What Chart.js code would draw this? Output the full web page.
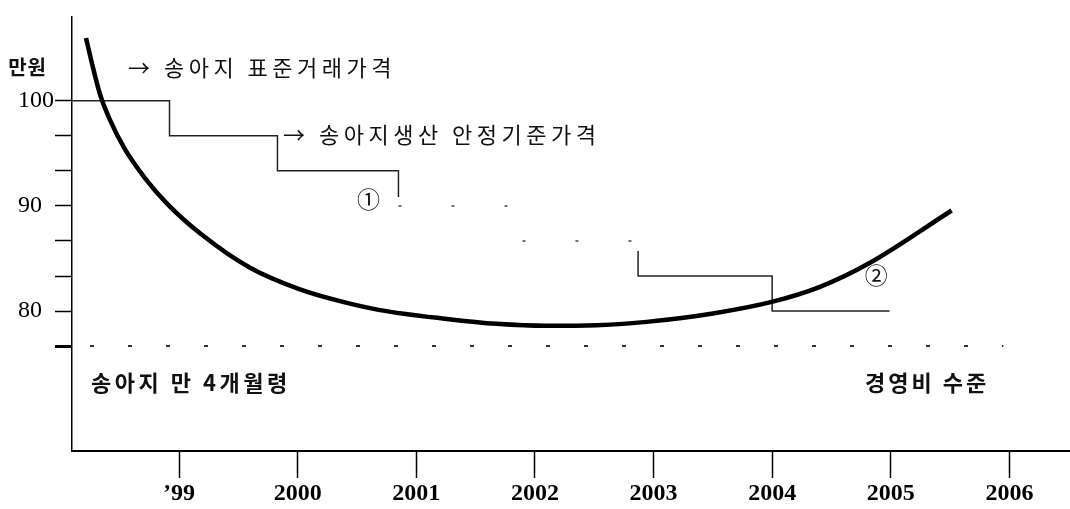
<!DOCTYPE html>
<html>
<head>
<meta charset="utf-8">
<script src="https://cdn.jsdelivr.net/npm/chart.js@4/dist/chart.umd.min.js"></script>
<style>
  html, body { margin: 0; padding: 0; background: #fff; }
  #wrap { width: 1070px; height: 509px; position: relative; }
</style>
</head>
<body>
<div id="wrap"><canvas id="chart"></canvas></div>
<script>
// 가로: 연도, 세로: 만원

// 경영비 수준 (굵은 곡선)
const curveYears  = [1998.216, 1998.275, 1998.334, 1998.418, 1998.545, 1998.713, 1998.899, 1999.177, 1999.599,
                     2000.020, 2000.357, 2000.694, 2001.257, 2001.678, 2002.100, 2002.521, 2002.942, 2003.501,
                     2004.005, 2004.403, 2004.825, 2005.513];
const curveValues = [105.96, 103.15, 100.62, 98.18, 95.37, 92.65, 90.22, 87.40, 84.12,
                     82.06, 80.94, 80.09, 79.25, 78.78, 78.59, 78.66, 78.97, 79.77,
                     80.89, 82.30, 84.59, 89.56];

// 송아지생산 안정기준가격 (계단선) - 앞부분
const stepYearsA  = [1998.10, 1998.92, 1998.92, 1999.83, 1999.83, 2000.85, 2000.85];
const stepValuesA = [100, 100, 96.67, 96.67, 93.33, 93.33, 90.84];
// 흐린 가운데 부분
const stepYearsB  = [2000.85, 2001.87, 2001.87, 2002.87, 2002.87];
const stepValuesB = [90, 90, 86.67, 86.67, 85.7];
// 뒷부분
const stepYearsC  = [2002.87, 2002.87, 2004.00, 2004.00, 2004.99];
const stepValuesC = [85.7, 83.33, 83.33, 80, 80];

// 점선 (76.67 수준)
const dotYears  = [1998.25, 2005.95];
const dotValues = [76.67, 76.67];

// 축 눈금
const xTickYears  = [1999, 2000, 2001, 2002, 2003, 2004, 2005, 2006];
const xTickLabels = ["’99", "2000", "2001", "2002", "2003", "2004", "2005", "2006"];
const yTickValues = [76.67, 80, 83.33, 86.67, 90, 93.33, 96.67, 100];
const yLabelValues = [80, 90, 100];

const pts = (xs, ys) => xs.map((x, i) => ({ x: x, y: ys[i] }));

const KR = "'Noto Sans CJK KR', sans-serif";
const notes = [
  { text: "만원", x: 1997.56, y: 103.15, font: "bold 20px " + KR, sp: "1px" },
  { text: "→ 송아지 표준거래가격", x: 1998.57, y: 103.15, font: "22px " + KR, sp: "4.5px" },
  { text: "→ 송아지생산 안정기준가격", x: 1999.877, y: 96.78, font: "22px " + KR, sp: "4.5px" },
  { text: "①", x: 2000.50, y: 90.59, font: "23px " + KR, sp: "0px" },
  { text: "②", x: 2004.78, y: 83.37, font: "23px " + KR, sp: "0px" },
  { text: "송아지 만 4개월령", x: 1998.258, y: 73.16, font: "bold 22px " + KR, sp: "3.5px" },
  { text: "경영비 수준", x: 2004.783, y: 73.16, font: "bold 22px " + KR, sp: "3px" },
];

const notePlugin = {
  id: "notes",
  afterDatasetsDraw(chart) {
    const ctx = chart.ctx;
    const xs = chart.scales.x, ys = chart.scales.y;
    ctx.save();
    ctx.fillStyle = "#111";
    ctx.textBaseline = "middle";
    ctx.textAlign = "left";
    notes.forEach((n) => {
      ctx.font = n.font;
      ctx.letterSpacing = n.sp;
      ctx.fillText(n.text, xs.getPixelForValue(n.x), ys.getPixelForValue(n.y));
    });
    ctx.restore();
  },
};

new Chart(document.getElementById("chart"), {
  type: "line",
  data: {
    datasets: [
      {
        data: pts(curveYears, curveValues),
        borderColor: "#000",
        borderWidth: 4.5,
        pointRadius: 0,
        cubicInterpolationMode: "monotone",
      },
      {
        data: pts(stepYearsA, stepValuesA),
        borderColor: "#222",
        borderWidth: 1.5,
        pointRadius: 0,
        tension: 0,
      },
      {
        data: pts(stepYearsB, stepValuesB),
        borderColor: "#444",
        borderWidth: 1.5,
        borderDash: [3, 50],
        pointRadius: 0,
        tension: 0,
      },
      {
        data: pts(stepYearsC, stepValuesC),
        borderColor: "#222",
        borderWidth: 1.5,
        pointRadius: 0,
        tension: 0,
      },
      {
        data: pts(dotYears, dotValues),
        borderColor: "#333",
        borderWidth: 2,
        borderDash: [4, 34],
        pointRadius: 0,
      },
    ],
  },
  options: {
    responsive: true,
    maintainAspectRatio: false,
    animation: false,
    layout: { padding: { left: 18, top: 10, right: 0, bottom: 0 } },
    plugins: { legend: { display: false }, tooltip: { enabled: false } },
    scales: {
      x: {
        type: "linear",
        min: 1998.098,
        max: 2006.511,
        border: { color: "#000", width: 2 },
        grid: {
          drawOnChartArea: false,
          drawTicks: true,
          tickLength: 27,
          tickColor: "#000",
          tickWidth: 1.5,
        },
        afterBuildTicks: (s) => { s.ticks = xTickYears.map((v) => ({ value: v })); },
        afterFit: (s) => { s.height = 58; },
        ticks: {
          autoSkip: false,
          maxRotation: 0,
          padding: 1,
          color: "#000",
          font: { family: "'Liberation Serif', serif", size: 24, weight: "bold" },
          callback: (v) => xTickLabels[xTickYears.indexOf(Math.round(v))],
        },
      },
      y: {
        type: "linear",
        min: 66.69,
        max: 108.02,
        border: { color: "#000", width: 1.5 },
        grid: {
          drawOnChartArea: false,
          drawTicks: true,
          tickLength: 17,
          tickColor: "#000",
          tickWidth: (c) => (c.tick && c.tick.value < 77 ? 3 : 1.5),
        },
        afterBuildTicks: (s) => { s.ticks = yTickValues.map((v) => ({ value: v })); },
        afterFit: (s) => { s.width = 54; },
        ticks: {
          crossAlign: "far",
          padding: 2,
          color: "#000",
          font: { family: "'Liberation Serif', serif", size: 24 },
          callback: (v) => (yLabelValues.includes(Math.round(v * 100) / 100) ? String(v) : ""),
        },
      },
    },
  },
  plugins: [notePlugin],
});
</script>
</body>
</html>
